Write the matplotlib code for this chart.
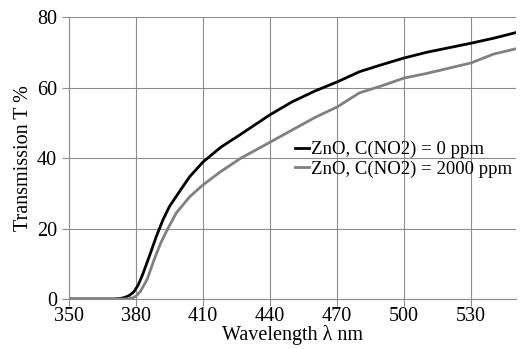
import matplotlib
matplotlib.use("Agg")
import matplotlib.pyplot as plt

# wavelength (nm) and transmission (%)
wl_0 = [350, 365, 371, 373, 375, 377, 379, 381, 383, 386, 389, 392, 395, 400, 404, 410,
        418, 427, 440, 450, 460, 470, 480, 490, 500, 510, 520, 530, 540, 550]
t_0 = [0, 0, 0, 0.15, 0.45, 1.0, 2.0, 4.0, 7.0, 12.2, 17.6, 22.4, 26.3, 31, 34.7, 38.9,
       43.1, 46.8, 52.3, 56, 59, 61.6, 64.5, 66.5, 68.4, 70, 71.3, 72.6, 74, 75.6]

wl_2000 = [350, 365, 376, 378, 380, 382, 385, 388, 391, 394, 398, 404, 410,
           418, 427, 440, 450, 460, 470, 480, 490, 500, 510, 520, 530, 540, 550]
t_2000 = [0, 0, 0, 0.2, 0.8, 2.2, 5.6, 11.0, 15.8, 19.7, 24.4, 29, 32.4,
          36.2, 40, 44.5, 48, 51.5, 54.5, 58.5, 60.5, 62.7, 64, 65.5, 67, 69.5, 71]

labels = ["ZnO, C(NO2) = 0 ppm", "ZnO, C(NO2) = 2000 ppm"]
x_ticks = [350, 380, 410, 440, 470, 500, 530]
y_ticks = [0, 20, 40, 60, 80]

plt.rcParams["font.family"] = ["Liberation Serif", "DejaVu Serif"]

fig = plt.figure(figsize=(5.2, 3.49), dpi=100)
ax = fig.add_axes([0.1327, 0.1433, 0.8593, 0.8077])

ax.plot(wl_0, t_0, color="black", lw=2, label=labels[0])
ax.plot(wl_2000, t_2000, color="#808080", lw=2, label=labels[1])

ax.set_xlim(350, 550)
ax.set_ylim(0, 80)
ax.set_xticks(x_ticks)
ax.set_yticks(y_ticks)
ax.grid(True, color="#8c8c8c", lw=0.8)
for s in ["top", "right"]:
    ax.spines[s].set_visible(False)
ax.spines["left"].set_color("#8c8c8c")
ax.spines["bottom"].set_color("#8c8c8c")
ax.tick_params(axis="both", labelsize=14.5, color="#8c8c8c", length=5, width=0.8)
ax.tick_params(axis="x", pad=1)

ax.set_xlabel("Wavelength λ nm", fontsize=14.5, labelpad=-1)
ax.set_ylabel("Transmission T %", fontsize=14.5, labelpad=3)

ax.legend(loc="upper left", bbox_to_anchor=(0.505, 0.56), frameon=False,
          fontsize=13.5, handlelength=0.75, handletextpad=0.1,
          labelspacing=0.1, borderpad=0, borderaxespad=0)

fig.savefig("out.png", dpi=100, facecolor="white")
